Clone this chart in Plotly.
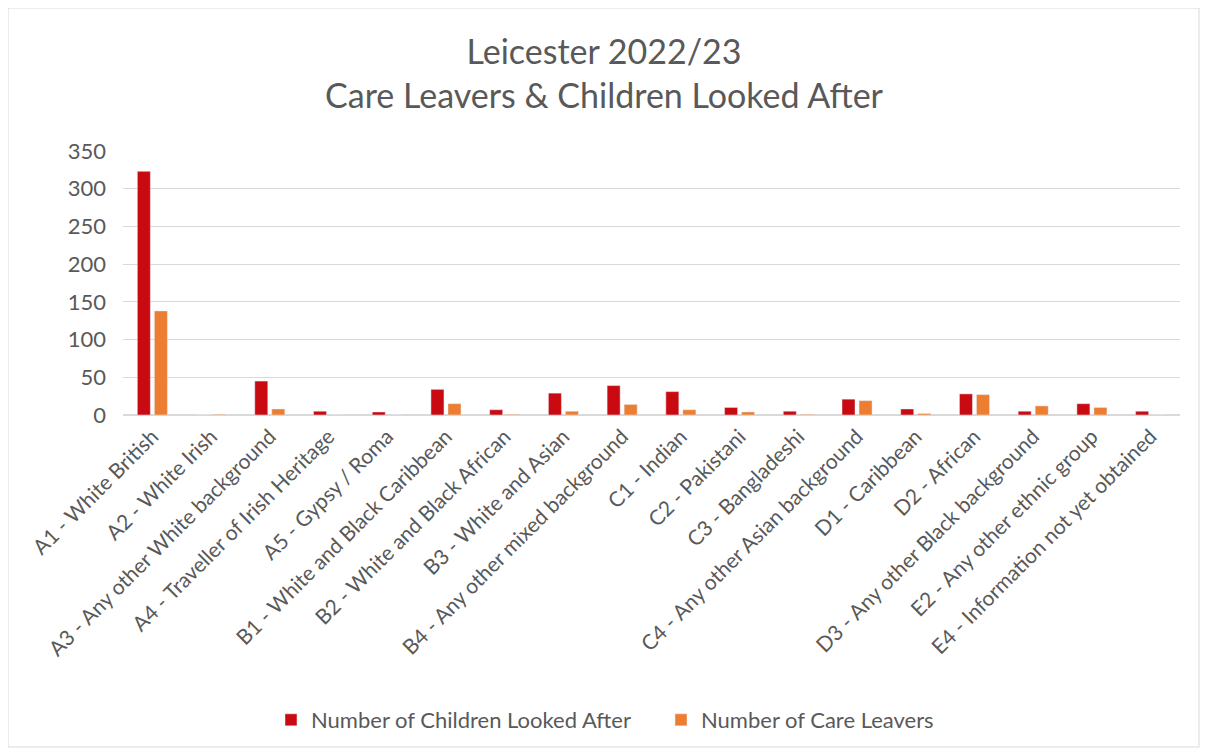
import plotly.graph_objects as go

categories = [
    "A1 - White British", "A2 - White Irish", "A3 - Any other White background",
    "A4 - Traveller of Irish Heritage", "A5 - Gypsy / Roma",
    "B1 - White and Black Caribbean", "B2 - White and Black African",
    "B3 - White and Asian", "B4 - Any other mixed background",
    "C1 - Indian", "C2 - Pakistani", "C3 - Bangladeshi",
    "C4 - Any other Asian background", "D1 - Caribbean", "D2 - African",
    "D3 - Any other Black background", "E2 - Any other ethnic group",
    "E4 - Information not yet obtained",
]
children_looked_after = [323, 0, 45, 5, 4, 34, 7, 29, 39, 31, 10, 5, 21, 8, 28, 5, 15, 5]
care_leavers = [138, 1, 8, 0, 0, 15, 1, 5, 14, 7, 4, 1, 19, 2, 27, 12, 10, 0]

FONT = "Lato"
GREY = "#595959"

fig = go.Figure()
fig.add_trace(go.Bar(x=categories, y=children_looked_after,
                     name="Number of Children Looked After",
                     marker=dict(color="#C90A10")))
fig.add_trace(go.Bar(x=categories, y=care_leavers,
                     name="Number of Care Leavers",
                     marker=dict(color="#ED7D31")))

# figure is placed at page offset (8, 8) by the body margin
OFF = 8
W, H = 1192, 740
L, R, T, B = 123 - OFF, 20, 151 - OFF, H - (415 - OFF)
pw, ph = W - L - R, H - T - B

def px(x):
    return (x - OFF - L) / pw

def py(y):
    return (H - B - (y - OFF)) / ph

fig.update_layout(
    width=W, height=H,
    margin=dict(l=L, r=R, t=T, b=B, autoexpand=False),
    paper_bgcolor="white", plot_bgcolor="white",
    font=dict(family=FONT, color=GREY),
    title=dict(text="Leicester 2022/23<br>Care Leavers & Children Looked After",
               x=0.5, xref="container", xanchor="center",
               y=1 - (64 - OFF) / H, yref="container", yanchor="middle",
               font=dict(size=34, color=GREY, family=FONT)),
    barmode="group", bargap=0.42, bargroupgap=0.235,
    showlegend=True,
    legend=dict(orientation="h", xref="container", x=(661 - OFF) / W, xanchor="center",
                y=py(720), yanchor="middle",
                font=dict(size=22, color=GREY, family=FONT),
                itemwidth=30, tracegroupgap=0, entrywidth=345),
    xaxis=dict(tickangle=-45, tickfont=dict(size=21, color=GREY, family=FONT),
               showgrid=False, showline=True, linecolor="#d9d9d9", ticks="",
               automargin=False),
    yaxis=dict(range=[0, 350], dtick=50, tickfont=dict(size=22, color=GREY, family=FONT),
               showgrid=True, gridcolor="#d9d9d9", zeroline=True, zerolinecolor="#d9d9d9",
               ticks="", ticklabelstandoff=16, automargin=False),
    shapes=[dict(type="rect", xref="paper", yref="paper",
                 x0=px(8), x1=px(1199), y0=py(747), y1=py(8),
                 line=dict(color="#d9d9d9", width=1), layer="below")],
)

fig.write_html("out.html")
